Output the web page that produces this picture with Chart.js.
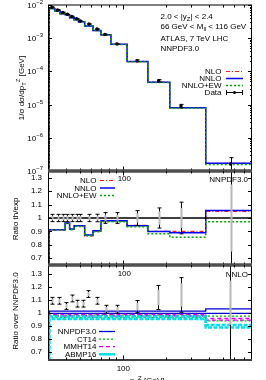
<!DOCTYPE html>
<html><head><meta charset="utf-8">
<script src="https://cdn.jsdelivr.net/npm/chart.js@4.4.1/dist/chart.umd.min.js"></script>
<style>
html,body{margin:0;padding:0;background:#fff;width:266px;height:380px;overflow:hidden}
canvas{position:absolute;left:0;top:0}
</style></head><body>
<canvas id="c1" width="266" height="380"></canvas>
<canvas id="c2" width="266" height="380"></canvas>
<canvas id="c3" width="266" height="380"></canvas>
<script>
// ---------- data ----------
const ptValues = [32, 35, 38, 41, 44, 47.5, 50.5, 58, 66, 75, 91, 126, 178, 255, 566];
const dataXsec = [8.52e-3, 7.07e-3, 5.94e-3, 5.25e-3, 4.50e-3, 3.84e-3, 3.30e-3, 2.68e-3, 1.89e-3, 1.29e-3, 6.69e-4, 2.10e-4, 5.25e-5, 9.08e-6, 1.63e-7];
const dataRelErr = [0.027, 0.027, 0.027, 0.027, 0.027, 0.027, 0.027, 0.027, 0.028, 0.04, 0.04, 0.055, 0.075, 0.118, 0.55];
const dataRelErrInner = [0.017, 0.017, 0.017, 0.017, 0.017, 0.017, 0.017, 0.017, 0.018, 0.025, 0.025, 0.035, 0.05, 0.075, 0.25];
const xsecNLO = [7.76e-3, 6.44e-3, 5.41e-3, 5.04e-3, 4.12e-3, 3.61e-3, 3.10e-3, 2.32e-3, 1.70e-3, 1.26e-3, 6.54e-4, 1.98e-4, 4.73e-5, 8.17e-6, 1.71e-7];
const xsecNNLO = [7.78e-3, 6.45e-3, 5.42e-3, 5.06e-3, 4.13e-3, 3.62e-3, 3.11e-3, 2.34e-3, 1.71e-3, 1.26e-3, 6.56e-4, 1.98e-4, 4.73e-5, 8.08e-6, 1.72e-7];
const xsecNNLOEW = [7.75e-3, 6.43e-3, 5.41e-3, 5.03e-3, 4.11e-3, 3.60e-3, 3.09e-3, 2.32e-3, 1.70e-3, 1.26e-3, 6.50e-4, 1.96e-4, 4.64e-5, 7.77e-6, 1.58e-7];
const ratioNLO = [0.911, 0.911, 0.911, 0.96, 0.915, 0.94, 0.94, 0.866, 0.902, 0.975, 0.978, 0.945, 0.90, 0.90, 1.05];
const ratioNNLO = [0.913, 0.913, 0.913, 0.963, 0.918, 0.943, 0.943, 0.873, 0.905, 0.98, 0.98, 0.943, 0.90, 0.89, 1.055];
const ratioNNLOEW = [0.91, 0.91, 0.91, 0.958, 0.913, 0.938, 0.937, 0.867, 0.898, 0.973, 0.972, 0.935, 0.883, 0.856, 0.972];
const ptPdfData = [31.9, 36.0, 40.1, 44.0, 48.2, 52.3, 57.5, 66.1, 76.1, 90.8, 126, 177, 254, 564];
const dataOverNNPDF = [1.095, 1.095, 1.055, 1.113, 1.073, 1.073, 1.147, 1.095, 1.03, 1.03, 1.05, 1.12, 1.14, 1.08];
const dataOverNNPDFErr = [0.026, 0.026, 0.026, 0.026, 0.026, 0.026, 0.026, 0.026, 0.03, 0.03, 0.047, 0.093, 0.133, 0.6];
const dataOverNNPDFErrInner = [0.016, 0.016, 0.016, 0.016, 0.016, 0.016, 0.016, 0.016, 0.018, 0.018, 0.03, 0.06, 0.09, 0.17];
const nnpdfUp = [1.016, 1.016, 1.016, 1.016, 1.016, 1.016, 1.016, 1.016, 1.016, 1.016, 1.016, 1.016, 1.016, 1.016, 1.033];
const nnpdfLo = [0.998, 0.998, 0.998, 0.998, 0.998, 0.998, 0.998, 0.998, 0.998, 0.998, 0.998, 0.998, 0.998, 0.998, 0.998];
const ct14Up = [0.985, 0.985, 0.985, 0.985, 0.985, 0.985, 0.985, 0.985, 0.985, 0.985, 0.985, 0.985, 0.985, 0.985, 0.977];
const ct14Lo = [0.965, 0.965, 0.965, 0.965, 0.965, 0.965, 0.965, 0.965, 0.965, 0.965, 0.965, 0.965, 0.965, 0.965, 0.941];
const mmhtUp = [0.99, 0.99, 0.99, 0.99, 0.99, 0.99, 0.99, 0.99, 0.99, 0.99, 0.99, 0.99, 0.99, 0.99, 0.959];
const mmhtLo = [0.978, 0.978, 0.978, 0.978, 0.978, 0.978, 0.978, 0.978, 0.978, 0.978, 0.978, 0.978, 0.978, 0.978, 0.947];
const abmpUp = [0.975, 0.975, 0.975, 0.975, 0.975, 0.975, 0.975, 0.975, 0.975, 0.975, 0.975, 0.975, 0.975, 0.975, 0.908];
const abmpLo = [0.955, 0.955, 0.955, 0.955, 0.955, 0.955, 0.955, 0.955, 0.955, 0.955, 0.955, 0.955, 0.955, 0.955, 0.89];
const yTicksLog = [1e-7, 1e-6, 1e-5, 1e-4, 1e-3, 1e-2];
const yTicksRatio = [0.7, 0.8, 0.9, 1, 1.1, 1.2, 1.3];
const xMajorTicks = [100];
const xMinorTicks = [40, 50, 60, 70, 80, 90, 200, 300, 400, 500, 600, 700];
const xTickLabels = ['100'];

// ---------- helpers ----------
const FONT = '"Liberation Sans", Arial, Helvetica, sans-serif';
const COL = {nlo:'#ff1a1a', nnlo:'#0000ff', ew:'#00a800', nnpdf:'#0000d0', ct:'#00b400', mmht:'#e600e6', abmp:'#00e0e8'};

function histeps(xs, ys, floor) {
  const n = xs.length;
  const lo = xs[0] * Math.sqrt(xs[0] / xs[1]);
  const hi = xs[n-1] * Math.sqrt(xs[n-1] / xs[n-2]);
  const pts = [{x: lo, y: floor}, {x: lo, y: ys[0]}];
  xs.forEach((x, i) => pts.push({x: x, y: ys[i]}));
  pts.push({x: hi, y: ys[n-1]}, {x: hi, y: floor});
  return pts;
}
function lineDs(xs, ys, floor, color, width, dash, order) {
  return {data: histeps(xs, ys, floor), borderColor: color, borderWidth: width, borderDash: dash || [],
          stepped: 'middle', pointRadius: 0, fill: false, order: order, tension: 0};
}
function richText(ctx, parts, x, y, align, size) {
  const small = Math.round(size * 0.75);
  let w = 0;
  parts.forEach(p => { ctx.font = (p[1] === 'n' ? size : small) + 'px ' + FONT; w += ctx.measureText(p[0]).width; });
  let cx = align === 'center' ? x - w / 2 : (align === 'right' ? x - w : x);
  ctx.textAlign = 'left'; ctx.textBaseline = 'alphabetic';
  parts.forEach(p => {
    const s = p[1] === 'n' ? size : small;
    ctx.font = s + 'px ' + FONT;
    const dy = p[1] === 'sub' ? 2 : (p[1] === 'sup' ? -3.5 : 0);
    ctx.fillText(p[0], cx, y + dy);
    cx += ctx.measureText(p[0]).width;
  });
}
function vText(ctx, parts, cx, cy, size) {
  ctx.save(); ctx.translate(cx, cy); ctx.rotate(-Math.PI / 2);
  richText(ctx, parts, 0, 3, 'center', size);
  ctx.restore();
}
function drawTicks(chart, yMajor, yMinor) {
  const {ctx, chartArea: a, scales: {x, y}} = chart;
  ctx.save(); ctx.strokeStyle = '#000'; ctx.lineWidth = 1; ctx.setLineDash([]);
  ctx.beginPath();
  const xt = (v, L) => { const p = Math.round(x.getPixelForValue(v)) + 0.5;
    ctx.moveTo(p, a.top); ctx.lineTo(p, a.top + L); ctx.moveTo(p, a.bottom); ctx.lineTo(p, a.bottom - L); };
  const yt = (v, L) => { const p = Math.round(y.getPixelForValue(v)) + 0.5;
    ctx.moveTo(a.left, p); ctx.lineTo(a.left + L, p); ctx.moveTo(a.right, p); ctx.lineTo(a.right - L, p); };
  xMajorTicks.forEach(v => xt(v, 4.5));
  xMinorTicks.forEach(v => xt(v, 2.5));
  yMajor.forEach(v => yt(v, 4));
  (yMinor || []).forEach(v => yt(v, 2));
  ctx.stroke(); ctx.restore();
}
function drawFrame(chart, topW, topC, botW, botC) {
  const {ctx, chartArea: a} = chart;
  ctx.save();
  ctx.fillStyle = '#000';
  ctx.fillRect(a.left, a.top, 1, a.height);
  ctx.fillRect(a.right - 1, a.top, 1, a.height);
  ctx.fillStyle = topC; ctx.fillRect(a.left, a.top - topW / 2, a.width, topW);
  ctx.fillStyle = botC; ctx.fillRect(a.left, a.bottom - botW / 2, a.width, botW);
  ctx.restore();
}
function drawErr(chart, xs, ys, err, errIn, rel) {
  const {ctx, chartArea: a, scales: {x, y}} = chart;
  ctx.save(); ctx.beginPath(); ctx.rect(a.left, a.top, a.width, a.height); ctx.clip();
  xs.forEach((xv, i) => {
    const px = Math.round(x.getPixelForValue(xv)) + 0.5;
    const v = ys[i];
    const lo = rel ? v * (1 - err[i]) : v - err[i], hi = rel ? v * (1 + err[i]) : v + err[i];
    const pl = y.getPixelForValue(lo), ph = y.getPixelForValue(hi);
    ctx.strokeStyle = '#000'; ctx.lineWidth = 1; ctx.setLineDash([]);
    ctx.beginPath();
    ctx.moveTo(px, pl); ctx.lineTo(px, ph);
    ctx.moveTo(px - 2, pl); ctx.lineTo(px + 2, pl);
    ctx.moveTo(px - 2, ph); ctx.lineTo(px + 2, ph);
    ctx.stroke();
    if (errIn) {
      const il = y.getPixelForValue(v - errIn[i]), ih = y.getPixelForValue(v + errIn[i]);
      ctx.strokeStyle = '#b8b8b8'; ctx.lineWidth = 2;
      ctx.beginPath(); ctx.moveTo(px, il); ctx.lineTo(px, ih); ctx.stroke();
    }
  });
  ctx.restore();
}
function legend(ctx, items, xr, x0, x1, y0, dy) {
  items.forEach((it, i) => {
    const yy = y0 + i * dy;
    ctx.fillStyle = '#000';
    richText(ctx, [[it.label, 'n']], xr, yy + 3, 'right', 8);
    ctx.save();
    ctx.strokeStyle = it.color; ctx.lineWidth = it.width; ctx.setLineDash(it.dash || []);
    ctx.beginPath(); ctx.moveTo(x0, yy + 0.5); ctx.lineTo(x1, yy + 0.5); ctx.stroke();
    if (it.err) {
      ctx.setLineDash([]); ctx.lineWidth = 1; ctx.beginPath();
      ctx.moveTo(x0 + 0.5, yy - 2); ctx.lineTo(x0 + 0.5, yy + 3);
      ctx.moveTo(x1 - 0.5, yy - 2); ctx.lineTo(x1 - 0.5, yy + 3); ctx.stroke();
      ctx.fillStyle = '#000'; ctx.beginPath(); ctx.arc((x0 + x1) / 2, yy + 0.5, 1.5, 0, 7); ctx.fill();
    }
    ctx.restore();
  });
}
function baseOptions(top, bottom, yScale) {
  return {
    responsive: false, animation: false, events: [],
    layout: {padding: {left: 0, right: 14, top: top, bottom: 380 - bottom}},
    plugins: {legend: {display: false}, tooltip: {enabled: false}},
    scales: {x: {type: 'logarithmic', min: 30, max: 800, display: false}, y: yScale}
  };
}
function ratioScale(min, max) {
  return {type: 'linear', min: min, max: max,
    afterFit: s => { s.width = 48; },
    afterBuildTicks: s => { s.ticks = yTicksRatio.map(v => ({value: v})); },
    ticks: {font: {size: 8, family: FONT}, color: '#000', padding: 6,
            callback: v => String(Math.round(v * 10) / 10)},
    grid: {display: false, drawTicks: false}, border: {display: false}};
}
const minorLog = [];
yTicksLog.slice(0, -1).forEach(d => { for (let k = 2; k <= 9; k++) minorLog.push(d * k); });

// ---------- top panel ----------
new Chart(document.getElementById('c1'), {
  type: 'line',
  data: {datasets: [
    lineDs(ptValues, xsecNLO, 1e-9, COL.nlo, 1.2, [4, 2, 1, 2], 3),
    lineDs(ptValues, xsecNNLO, 1e-9, COL.nnlo, 1.5, [], 2),
    lineDs(ptValues, xsecNNLOEW, 1e-9, COL.ew, 1.5, [2, 2], 1),
    {data: ptValues.map((x, i) => ({x: x, y: dataXsec[i]})), showLine: false, pointRadius: 1.7,
     pointBackgroundColor: '#000', pointBorderColor: '#000', pointBorderWidth: 0, order: 0}
  ]},
  options: baseOptions(5, 171, {type: 'logarithmic', min: 1e-7, max: 1e-2,
    afterFit: s => { s.width = 48; },
    afterBuildTicks: s => { s.ticks = yTicksLog.map(v => ({value: v})); },
    ticks: {display: false}, grid: {display: false, drawTicks: false}, border: {display: false}}),
  plugins: [{id: 'topdeco', afterDraw(chart) {
    const {ctx, scales: {y}} = chart;
    drawErr(chart, ptValues, dataXsec, dataRelErr, null, true);
    drawFrame(chart, 1, '#000', 3, '#505050');
    drawTicks(chart, yTicksLog, minorLog);
    ctx.save(); ctx.fillStyle = '#000';
    yTicksLog.forEach(v => {
      const p = y.getPixelForValue(v);
      const e = String(Math.round(Math.log10(v))).replace('-', '\u2212');
      ctx.font = '6px ' + FONT; const ew = ctx.measureText(e).width;
      ctx.font = '8px ' + FONT; const bw = ctx.measureText('10').width;
      const x0 = 43 - ew - bw;
      ctx.textAlign = 'left'; ctx.textBaseline = 'alphabetic';
      ctx.fillText('10', x0, p + 3);
      ctx.font = '6px ' + FONT; ctx.fillText(e, x0 + bw, p - 1);
    });
    vText(ctx, [['1/\u03c3 d\u03c3/dp', 'n'], ['T', 'sub'], ['Z', 'sup'], [' [GeV]', 'n']], 20.5, 88, 8);
    richText(ctx, [['2.0 < |y', 'n'], ['Z', 'sub'], ['| < 2.4', 'n']], 160.5, 19, 'left', 8);
    richText(ctx, [['66 GeV < M', 'n'], ['ll', 'sub'], [' < 116 GeV', 'n']], 160.5, 29, 'left', 8);
    richText(ctx, [['ATLAS, 7 TeV LHC', 'n']], 160.5, 41, 'left', 8);
    richText(ctx, [['NNPDF3.0', 'n']], 160.5, 50.5, 'left', 8);
    legend(ctx, [
      {label: 'NLO', color: COL.nlo, width: 1.2, dash: [4, 2, 1, 2]},
      {label: 'NNLO', color: COL.nnlo, width: 1.5},
      {label: 'NNLO+EW', color: COL.ew, width: 1.5, dash: [2, 2]},
      {label: 'Data', color: '#000', width: 1, err: true}
    ], 221.5, 226, 243, 71, 7);
    ctx.restore();
  }}]
});

// ---------- middle panel ----------
new Chart(document.getElementById('c2'), {
  type: 'line',
  data: {datasets: [
    lineDs(ptValues, ratioNLO, 0, COL.nlo, 1.2, [4, 2, 1, 2], 3),
    lineDs(ptValues, ratioNNLO, 0, COL.nnlo, 1.5, [], 2),
    lineDs(ptValues, ratioNNLOEW, 0, COL.ew, 1.5, [2, 2], 1)
  ]},
  options: baseOptions(171, 265, ratioScale(0.65, 1.35)),
  plugins: [{id: 'middeco', afterDraw(chart) {
    const {ctx, chartArea: a, scales: {x, y}} = chart;
    ctx.save();
    const p1 = Math.round(y.getPixelForValue(1));
    ctx.fillStyle = '#000'; ctx.fillRect(a.left, p1 - 0.75, a.width, 1.5);
    ctx.restore();
    drawErr(chart, ptValues, ptValues.map(() => 1), dataRelErr, dataRelErrInner, false);
    drawFrame(chart, 3, '#505050', 3, '#505050');
    drawTicks(chart, yTicksRatio, []);
    ctx.save(); ctx.fillStyle = '#000';
    vText(ctx, [['Ratio th/exp', 'n']], 15, 219, 8);
    richText(ctx, [[xTickLabels[0], 'n']], x.getPixelForValue(100) + 1.5, 181, 'center', 8);
    richText(ctx, [['NNPDF3.0', 'n']], 248, 182, 'right', 8);
    legend(ctx, [
      {label: 'NLO', color: COL.nlo, width: 1.2, dash: [4, 2, 1, 2]},
      {label: 'NNLO', color: COL.nnlo, width: 1.5},
      {label: 'NNLO+EW', color: COL.ew, width: 1.5, dash: [2, 2]}
    ], 96.5, 100, 115, 180, 7.5);
    ctx.restore();
  }}]
});

// ---------- bottom panel ----------
new Chart(document.getElementById('c3'), {
  type: 'line',
  data: {datasets: [
    lineDs(ptValues, nnpdfUp, 0, COL.nnpdf, 1.3, [], 8),
    lineDs(ptValues, nnpdfLo, 0, COL.nnpdf, 1.3, [], 7),
    lineDs(ptValues, ct14Up, 0, COL.ct, 1.3, [2, 2], 6),
    lineDs(ptValues, ct14Lo, 0, COL.ct, 1.3, [2, 2], 5),
    lineDs(ptValues, mmhtUp, 0, COL.mmht, 1.3, [4, 3], 4),
    lineDs(ptValues, mmhtLo, 0, COL.mmht, 1.3, [4, 3], 3),
    lineDs(ptValues, abmpUp, 0, COL.abmp, 2.5, [4, 1.5], 2),
    lineDs(ptValues, abmpLo, 0, COL.abmp, 2.5, [4, 1.5], 1)
  ]},
  options: baseOptions(265, 360, ratioScale(0.64, 1.37)),
  plugins: [{id: 'botdeco', afterDraw(chart) {
    const {ctx, scales: {x}} = chart;
    drawErr(chart, ptPdfData, dataOverNNPDF, dataOverNNPDFErr, dataOverNNPDFErrInner, false);
    drawFrame(chart, 3, '#505050', 2, '#404040');
    drawTicks(chart, yTicksRatio, []);
    ctx.save(); ctx.fillStyle = '#000';
    vText(ctx, [['Ratio over NNPDF3.0', 'n']], 15, 311, 8);
    richText(ctx, [[xTickLabels[0], 'n']], x.getPixelForValue(100) + 1.5, 275.5, 'center', 8);
    richText(ctx, [[xTickLabels[0], 'n']], x.getPixelForValue(100) + 0.5, 371, 'center', 8);
    richText(ctx, [['NNLO', 'n']], 248, 276.5, 'right', 8);
    richText(ctx, [['p', 'n'], ['T', 'sub'], ['Z', 'sup'], [' [GeV]', 'n']], 130, 383, 'left', 8);
    legend(ctx, [
      {label: 'NNPDF3.0', color: COL.nnpdf, width: 1.3},
      {label: 'CT14', color: COL.ct, width: 1.3, dash: [2, 2]},
      {label: 'MMHT14', color: COL.mmht, width: 1.3, dash: [4, 3]},
      {label: 'ABMP16', color: COL.abmp, width: 2.5}
    ], 96.5, 99, 115, 331, 7.6);
    ctx.restore();
  }}]
});
</script>
</body></html>
